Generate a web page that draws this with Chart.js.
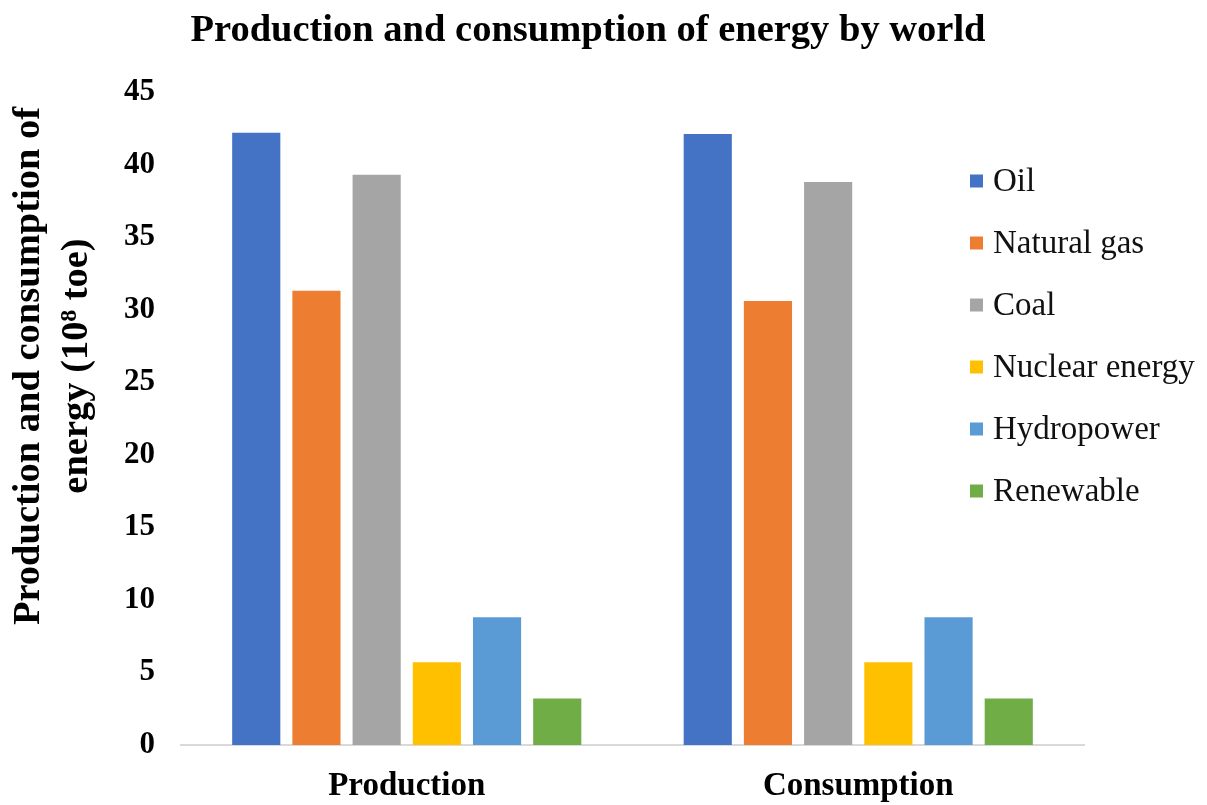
<!DOCTYPE html>
<html>
<head>
<meta charset="utf-8">
<script src="https://cdn.jsdelivr.net/npm/chart.js@4.4.1/dist/chart.umd.min.js"></script>
<style>
  html, body { margin: 0; padding: 0; background: #ffffff; }
  #wrap { width: 1207px; height: 805px; position: relative; }
</style>
</head>
<body>
<div id="wrap"><canvas id="chart" width="1207" height="805"></canvas></div>
<script>
// World energy production and consumption (10^8 toe)
const categories = ['Production', 'Consumption'];
const sources = ['Oil', 'Natural gas', 'Coal', 'Nuclear energy', 'Hydropower', 'Renewable'];
const oil = [42.2, 42.1];
const naturalGas = [31.3, 30.6];
const coal = [39.3, 38.8];
const nuclear = [5.7, 5.7];
const hydropower = [8.8, 8.8];
const renewable = [3.2, 3.2];
const yTicks = [0, 5, 10, 15, 20, 25, 30, 35, 40, 45];

const chartTitle = 'Production and consumption of energy by world';
const yTitleLines = ['Production and consumption of', 'energy (10\u2078 toe)'];

const seriesValues = [oil, naturalGas, coal, nuclear, hydropower, renewable];
const colors = ['#4472C4', '#ED7D31', '#A5A5A5', '#FFC000', '#5B9BD5', '#70AD47'];

const SERIF = '"Liberation Serif", "Times New Roman", serif';

// Chart title, rotated y-axis title and the legend column over the plot's right side
const decorations = {
  id: 'decorations',
  afterDraw(chart) {
    const ctx = chart.ctx;
    ctx.save();

    // main title
    ctx.fillStyle = '#000000';
    ctx.font = 'bold 38.5px ' + SERIF;
    ctx.textAlign = 'center';
    ctx.textBaseline = 'middle';
    ctx.fillText(chartTitle, 588, 31);

    // y-axis title, two rotated lines
    ctx.save();
    ctx.translate(0, 366);
    ctx.rotate(-Math.PI / 2);
    ctx.font = 'bold 38.5px ' + SERIF;
    ctx.fillText(yTitleLines[0], 0, 29);
    ctx.fillText(yTitleLines[1], 0, 77);
    ctx.restore();

    // legend
    const x0 = 970, y0 = 181, step = 62, box = 13;
    ctx.font = '33px ' + SERIF;
    ctx.textAlign = 'left';
    chart.data.datasets.forEach((ds, i) => {
      const y = y0 + i * step;
      ctx.fillStyle = ds.backgroundColor;
      ctx.fillRect(x0, y - box / 2, box, box);
      ctx.fillStyle = '#111111';
      ctx.fillText(ds.label, x0 + 23, y + 1);
    });
    ctx.restore();
  }
};

new Chart(document.getElementById('chart'), {
  type: 'bar',
  data: {
    labels: categories,
    datasets: sources.map((name, i) => ({
      label: name,
      data: seriesValues[i],
      backgroundColor: colors[i],
      borderWidth: 0,
      categoryPercentage: 0.8,
      barPercentage: 0.8
    }))
  },
  options: {
    responsive: false,
    animation: false,
    layout: { padding: { left: 8, right: 123, top: 92, bottom: 0 } },
    plugins: {
      legend: { display: false },
      tooltip: { enabled: false },
      title: { display: false }
    },
    scales: {
      x: {
        afterFit(scale) { scale.height = 60; },
        grid: { display: false },
        border: { display: true, color: '#d9d9d9', width: 2 },
        ticks: {
          color: '#000000',
          padding: 14,
          font: { family: SERIF, size: 33, weight: 'bold' }
        }
      },
      y: {
        min: 0,
        max: 45,
        afterBuildTicks(scale) {
          scale.ticks = yTicks.map(v => ({ value: v }));
        },
        afterFit(scale) { scale.width = 173; },
        grid: { display: false, drawTicks: false },
        border: { display: false },
        ticks: {
          color: '#000000',
          padding: 26,
          font: { family: SERIF, size: 31, weight: 'bold' }
        }
      }
    }
  },
  plugins: [decorations]
});
</script>
</body>
</html>
